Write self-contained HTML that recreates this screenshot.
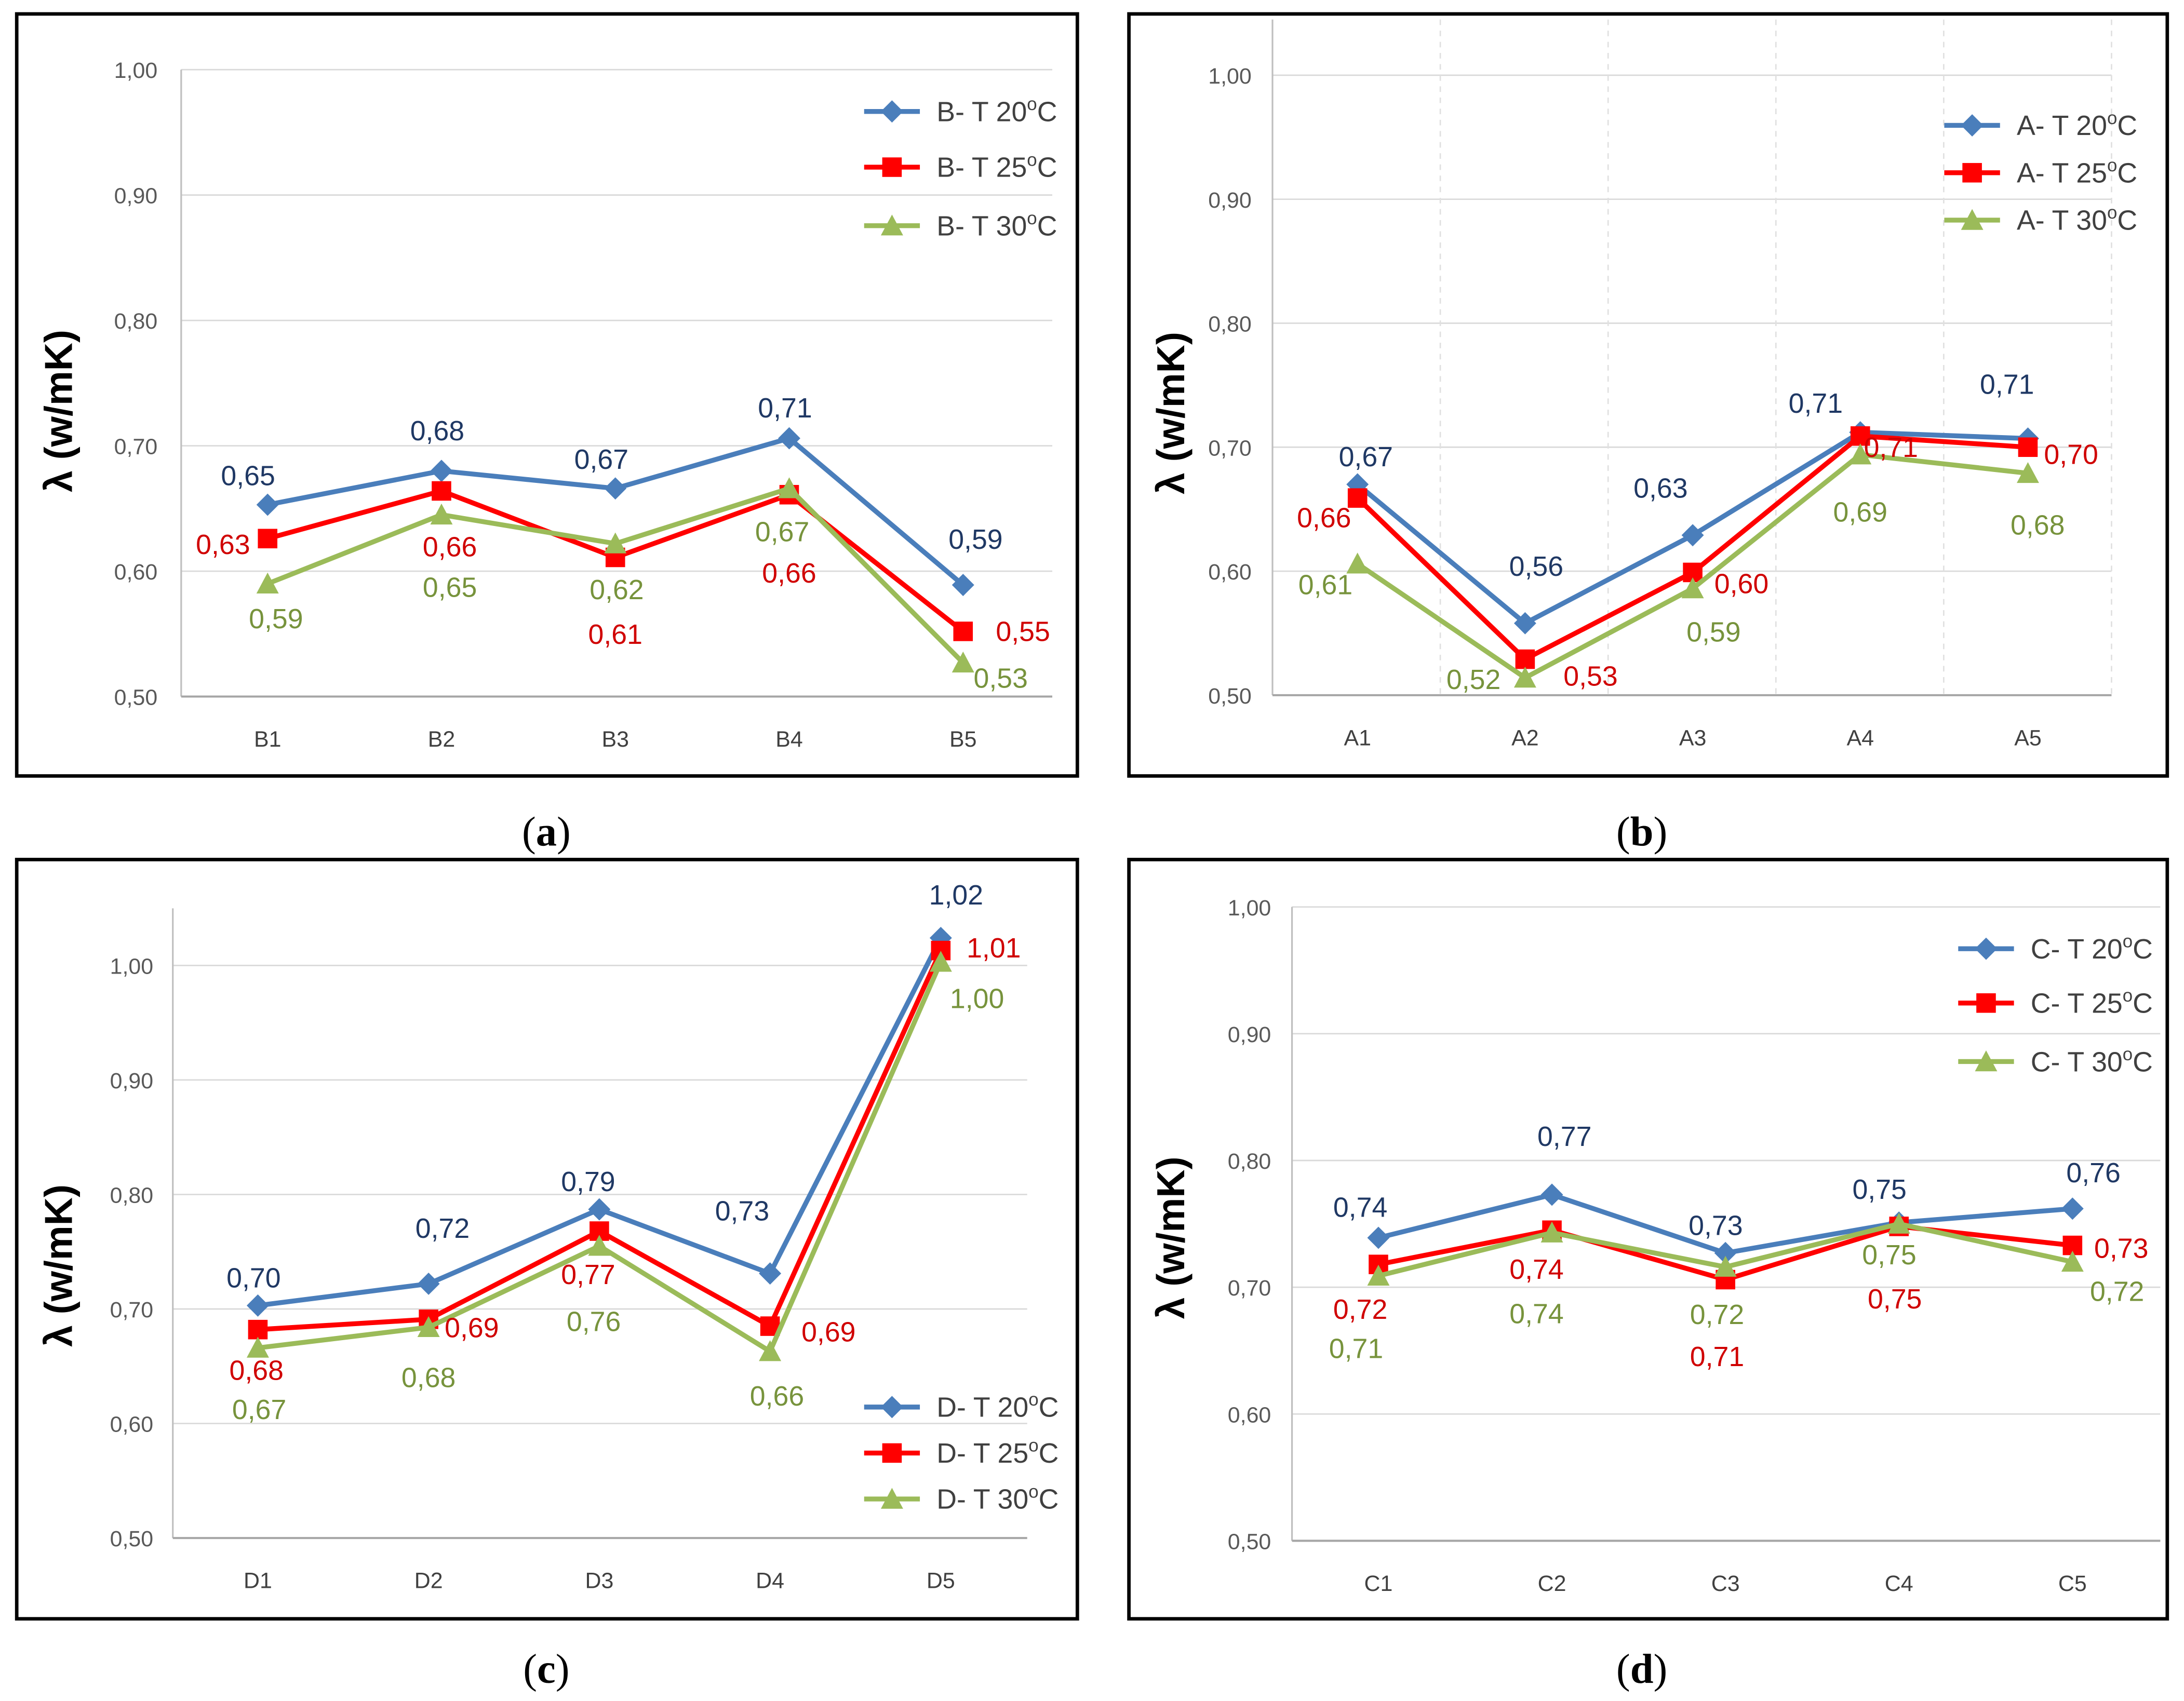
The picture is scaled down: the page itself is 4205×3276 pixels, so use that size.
<!DOCTYPE html>
<html><head><meta charset="utf-8"><style>
html,body{margin:0;padding:0;background:#fff;}
svg{display:block;}
text{font-family:"Liberation Sans",sans-serif;}
</style></head><body>
<svg id="fig" width="4205" height="3276" viewBox="0 0 1567 1221" preserveAspectRatio="none" xmlns="http://www.w3.org/2000/svg"></svg>
<script>
// ---- data ----
const catsA = ["B1","B2","B3","B4","B5"];
const seriesA20 = [0.653,0.680,0.666,0.706,0.589];
const seriesA25 = [0.626,0.664,0.611,0.661,0.552];
const seriesA30 = [0.590,0.645,0.622,0.666,0.527];
const labelsA20 = ["0,65","0,68","0,67","0,71","0,59"];
const labelsA25 = ["0,63","0,66","0,61","0,66","0,55"];
const labelsA30 = ["0,59","0,65","0,62","0,67","0,53"];

const catsB = ["A1","A2","A3","A4","A5"];
const seriesB20 = [0.670,0.558,0.629,0.712,0.707];
const seriesB25 = [0.659,0.529,0.599,0.709,0.700];
const seriesB30 = [0.606,0.514,0.586,0.694,0.679];
const labelsB20 = ["0,67","0,56","0,63","0,71","0,71"];
const labelsB25 = ["0,66","0,53","0,60","0,71","0,70"];
const labelsB30 = ["0,61","0,52","0,59","0,69","0,68"];

const catsC = ["D1","D2","D3","D4","D5"];
const seriesC20 = [0.703,0.722,0.787,0.731,1.024];
const seriesC25 = [0.682,0.691,0.768,0.685,1.013];
const seriesC30 = [0.666,0.684,0.755,0.663,1.003];
const labelsC20 = ["0,70","0,72","0,79","0,73","1,02"];
const labelsC25 = ["0,68","0,69","0,77","0,69","1,01"];
const labelsC30 = ["0,67","0,68","0,76","0,66","1,00"];

const catsD = ["C1","C2","C3","C4","C5"];
const seriesD20 = [0.739,0.773,0.727,0.751,0.762];
const seriesD25 = [0.718,0.745,0.706,0.748,0.733];
const seriesD30 = [0.709,0.743,0.716,0.750,0.720];
const labelsD20 = ["0,74","0,77","0,73","0,75","0,76"];
const labelsD25 = ["0,72","0,74","0,71","0,75","0,73"];
const labelsD30 = ["0,71","0,74","0,72","0,75","0,72"];

const yTicks = [0.5,0.6,0.7,0.8,0.9,1.0];
const yTickLabels = ["0,50","0,60","0,70","0,80","0,90","1,00"];

// ---- layout/styling ----
const NS="http://www.w3.org/2000/svg";
const svg=document.getElementById('fig');
function mk(tag,attrs,parent){const e=document.createElementNS(NS,tag);for(const k in attrs)e.setAttribute(k,attrs[k]);(parent||svg).appendChild(e);return e;}

const COLORS=[{line:"#4a7ebb",txt:"#1f3864",m:"diamond"},{line:"#ff0000",txt:"#d00000",m:"square"},{line:"#9bbb59",txt:"#77933c",m:"triangle"}];

const panels=[
 {id:"a",box:[12,10,761,547],x0:130,x1:755,yTop:50,yBot:500,first:192,step:124.75,tickX:113,prefix:"B",
  cats:catsA,series:[seriesA20,seriesA25,seriesA30],labels:[labelsA20,labelsA25,labelsA30],
  off:[[[-14,-21],[-3,-29],[-10,-21],[-3,-22],[9,-33]],[[-32,4],[6,40],[0,55],[0,56],[43,0]],[[6,25],[6,52],[1,33],[-5,31],[27,11]]],
  leg:{x:620,ys:[80,120,162]},cap:[392,597],axisTop:50,vgrid:false},
 {id:"b",box:[810,10,745,547],x0:913,x1:1515,yTop:54,yBot:499,first:974,step:120.25,tickX:898,prefix:"A",
  cats:catsB,series:[seriesB20,seriesB25,seriesB30],labels:[labelsB20,labelsB25,labelsB30],
  off:[[[6,-20],[8,-41],[-23,-34],[-32,-21],[-15,-39]],[[-24,14],[47,12],[35,8],[22,8],[31,5]],[[-23,15],[-37,1],[15,31],[0,41],[7,37]]],
  leg:{x:1395,ys:[90,124,158]},cap:[1178,597],axisTop:14,vgrid:true},
 {id:"c",box:[12,617,761,545],x0:124,x1:737,yTop:693,yBot:1104,first:185,step:122.5,tickX:110,prefix:"D",
  cats:catsC,series:[seriesC20,seriesC25,seriesC30],labels:[labelsC20,labelsC25,labelsC30],
  off:[[[-3,-20],[10,-40],[-8,-20],[-20,-45],[11,-31]],[[-1,29],[31,6],[-8,31],[42,4],[38,-2]],[[1,44],[0,36],[-4,54],[5,32],[26,26]]],
  leg:{x:620,ys:[1010,1043,1076]},cap:[392,1198],axisTop:652,vgrid:false},
 {id:"d",box:[810,617,745,545],x0:927,x1:1550,yTop:651,yBot:1106,first:989,step:124.5,tickX:912,prefix:"C",
  cats:catsD,series:[seriesD20,seriesD25,seriesD30],labels:[labelsD20,labelsD25,labelsD30],
  off:[[[-13,-22],[9,-42],[-7,-20],[-14,-24],[15,-26]],[[-13,32],[-11,28],[-6,55],[-3,52],[35,2]],[[-16,52],[-11,58],[-6,34],[-7,22],[32,21]]],
  leg:{x:1405,ys:[681,720,762]},cap:[1178,1198],axisTop:651,vgrid:false}
];

function marker(g,type,x,y,color){
  let e;
  if(type==="diamond") e=mk('polygon',{points:`${x},${y-8} ${x+8},${y} ${x},${y+8} ${x-8},${y}`,fill:color},g);
  else if(type==="square") e=mk('rect',{x:x-7,y:y-7,width:14,height:14,fill:color},g);
  else e=mk('polygon',{points:`${x},${y-8} ${x+8},${y+7} ${x-8},${y+7}`,fill:color},g);
  return e;
}

panels.forEach(p=>{
  const g=mk('g',{});
  
  
  const frame=mk('rect',{x:p.box[0],y:p.box[1],width:p.box[2],height:p.box[3],fill:'#fff',stroke:'#000','stroke-width':2.5},g);
  
  
  const yS=v=>p.yBot-(v-0.5)/0.5*(p.yBot-p.yTop);
  const xS=i=>p.first+i*p.step;
  yTicks.forEach((t,i)=>{
    const y=yS(t);
    if(i>0){const gl=mk('line',{x1:p.x0,x2:p.x1,y1:y,y2:y,stroke:'#d9d9d9','stroke-width':1},g);
      }
    const tl=mk('text',{x:p.tickX,y:y+6,'text-anchor':'end','font-size':16,fill:'#595959'},g);
    tl.textContent=yTickLabels[i];
    
    
  });
  if(p.vgrid){
    for(let i=1;i<=5;i++){const x=p.x0+i*(p.x1-p.x0)/5;
      const vl=mk('line',{x1:x,x2:x,y1:p.axisTop,y2:p.yBot,stroke:'#e0e0e0','stroke-dasharray':'4,4','stroke-width':1},g);
      }
  }
  const ya=mk('line',{x1:p.x0,x2:p.x0,y1:p.axisTop,y2:p.yBot,stroke:'#bfbfbf','stroke-width':1.2},g);
  
  const xa=mk('line',{x1:p.x0,x2:p.x1,y1:p.yBot,y2:p.yBot,stroke:'#a6a6a6','stroke-width':1.5},g);
  
  p.cats.forEach((c,i)=>{
    const t=mk('text',{x:xS(i),y:p.yBot+36,'text-anchor':'middle','font-size':16,fill:'#404040'},g);
    t.textContent=c;
    
    
  });
  const cy=(p.yTop+p.yBot)/2+ (p.id==='a'||p.id==='b'?20:10);
  const ax=p.box[0]+30;
  const at=mk('text',{x:ax,y:cy,transform:`rotate(-90 ${ax} ${cy})`,'text-anchor':'middle','font-size':28,'font-weight':'bold',fill:'#000','dominant-baseline':'central'},g);
  at.textContent="λ (w/mK)";
  
  
  p.series.forEach((s,si)=>{
    const col=COLORS[si];
    const pts=s.map((v,i)=>xS(i)+','+yS(v)).join(' ');
    const pl=mk('polyline',{points:pts,fill:'none',stroke:col.line,'stroke-width':3.5,'stroke-linejoin':'round'},g);
    
    
    s.forEach((v,i)=>{
      const m=marker(g,col.m,xS(i),yS(v),col.line);
      
      
    });
  });
  p.series.forEach((s,si)=>{
    const col=COLORS[si];
    s.forEach((v,i)=>{
      const o=p.off[si][i];
      const t=mk('text',{x:xS(i)+o[0],y:yS(v)+o[1]+7,'text-anchor':'middle','font-size':20,fill:col.txt},g);
      t.textContent=p.labels[si][i];
      
      
    });
  });
  const lg=mk('g',{},g);
  
  
  [20,25,30].forEach((tc,si)=>{
    const col=COLORS[si],y=p.leg.ys[si],x=p.leg.x;
    const eg=mk('g',{},lg);
    
    
    mk('line',{x1:x,x2:x+40,y1:y,y2:y,stroke:col.line,'stroke-width':3.5},eg);
    marker(eg,col.m,x+20,y,col.line);
    const t=mk('text',{x:x+52,y:y+7,'font-size':20,fill:'#404040'},eg);
    t.innerHTML=p.prefix+'- T '+tc+'<tspan dy="-8" font-size="13">o</tspan><tspan dy="8">C</tspan>';
  });
  const cap=mk('text',{x:p.cap[0],y:p.cap[1]+10,'text-anchor':'middle','font-size':30,style:'font-family:"Liberation Serif",serif',fill:'#000'},g);
  cap.innerHTML='(<tspan font-weight="bold">'+p.id+'</tspan>)';
  
  
});
</script>
</body></html>
